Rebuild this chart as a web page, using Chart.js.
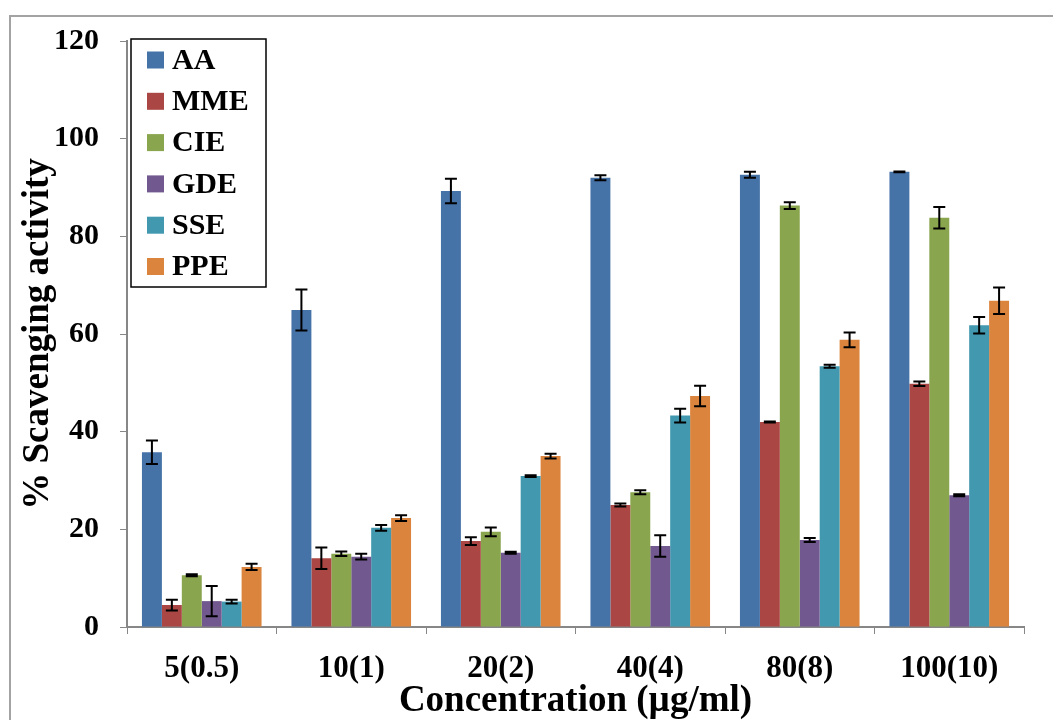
<!DOCTYPE html>
<html>
<head>
<meta charset="utf-8">
<script src="https://cdn.jsdelivr.net/npm/chart.js@4/dist/chart.umd.min.js"></script>
<style>
    html, body { margin: 0; padding: 0; background: #fff; overflow: hidden; }
    #frame { position: absolute; left: 9px; top: 15px; width: 1200px; height: 900px; border: 2px solid #a3a3a3; }
    #wrap { position: absolute; left: 0; top: 0; width: 1053px; height: 720px; }
</style>
</head>
<body>
<div id="frame"></div>
<div id="wrap"><canvas id="scavChart"></canvas></div>
<script>
const labels = ['5(0.5)', '10(1)', '20(2)', '40(4)', '80(8)', '100(10)'];

const aa = [35.8, 64.9, 89.3, 92.0, 92.6, 93.2];
const aaErr = [2.4, 4.2, 2.5, 0.5, 0.6, 0.1];
const mme = [4.5, 14.1, 17.6, 25.0, 42.0, 49.8];
const mmeErr = [1.1, 2.2, 0.8, 0.3, 0.1, 0.45];
const cie = [10.6, 15.0, 19.5, 27.6, 86.3, 83.8];
const cieErr = [0.2, 0.45, 0.9, 0.4, 0.7, 2.2];
const gde = [5.3, 14.4, 15.2, 16.6, 17.8, 27.0];
const gdeErr = [3.1, 0.6, 0.2, 2.2, 0.4, 0.2];
const sse = [5.2, 20.3, 30.9, 43.3, 53.4, 61.8];
const sseErr = [0.4, 0.6, 0.2, 1.4, 0.3, 1.7];
const ppe = [12.3, 22.3, 35.0, 47.3, 58.8, 66.8];
const ppeErr = [0.65, 0.6, 0.5, 2.1, 1.5, 2.7];

const serif = "'Liberation Serif', 'Times New Roman', serif";
const axisGrey = '#878787';

const series = [
    { label: 'AA', data: aa, errors: aaErr, color: '#4572A7' },
    { label: 'MME', data: mme, errors: mmeErr, color: '#AA4643' },
    { label: 'CIE', data: cie, errors: cieErr, color: '#89A54E' },
    { label: 'GDE', data: gde, errors: gdeErr, color: '#71588F' },
    { label: 'SSE', data: sse, errors: sseErr, color: '#4198AF' },
    { label: 'PPE', data: ppe, errors: ppeErr, color: '#DB843D' }
];

// error bars drawn from the y scale
const errorBars = {
    id: 'errorBars',
    afterDatasetsDraw(chart) {
        const ctx = chart.ctx;
        const y = chart.scales.y;
        ctx.save();
        ctx.strokeStyle = '#000';
        ctx.lineWidth = 2;
        chart.data.datasets.forEach((ds, i) => {
            chart.getDatasetMeta(i).data.forEach((bar, j) => {
                const v = ds.data[j], e = ds.errors[j];
                const top = y.getPixelForValue(v + e);
                const bot = y.getPixelForValue(v - e);
                ctx.beginPath();
                ctx.moveTo(bar.x, top); ctx.lineTo(bar.x, bot);
                ctx.moveTo(bar.x - 6, top); ctx.lineTo(bar.x + 6, top);
                ctx.moveTo(bar.x - 6, bot); ctx.lineTo(bar.x + 6, bot);
                ctx.stroke();
            });
        });
        ctx.restore();
    }
};

// boxed legend in the top-left corner of the plot
const boxLegend = {
    id: 'boxLegend',
    afterDraw(chart) {
        const ctx = chart.ctx;
        ctx.save();
        ctx.fillStyle = '#fff';
        ctx.fillRect(131, 39, 135, 248);
        ctx.strokeStyle = '#000';
        ctx.lineWidth = 1.5;
        ctx.strokeRect(131, 39, 135, 248);
        ctx.font = 'bold 30px ' + serif;
        ctx.textBaseline = 'middle';
        chart.data.datasets.forEach((ds, i) => {
            const cy = 60 + i * 41.3;
            ctx.fillStyle = ds.backgroundColor;
            ctx.fillRect(147, cy - 8.5, 17, 17);
            ctx.fillStyle = '#000';
            ctx.fillText(ds.label, 172, cy + 1);
        });
        ctx.restore();
    }
};

new Chart(document.getElementById('scavChart'), {
    type: 'bar',
    data: {
        labels: labels,
        datasets: series.map(s => ({
            label: s.label,
            data: s.data,
            errors: s.errors,
            backgroundColor: s.color,
            borderWidth: 0,
            categoryPercentage: 0.8,
            barPercentage: 1.0
        }))
    },
    options: {
        responsive: true,
        maintainAspectRatio: false,
        animation: false,
        layout: { padding: { top: 41, right: 29, left: 0, bottom: 0 } },
        plugins: {
            legend: { display: false },
            tooltip: { enabled: false }
        },
        scales: {
            x: {
                afterFit: s => { s.height = 93; },
                grid: { drawOnChartArea: false, drawTicks: true, tickLength: 7, color: axisGrey, offset: true },
                border: { color: axisGrey, width: 2 },
                ticks: { color: '#000', padding: 16, font: { family: serif, size: 31, weight: 'bold' } },
                title: {
                    display: true,
                    text: 'Concentration (µg/ml)',
                    color: '#000',
                    padding: { top: 0, bottom: 0 },
                    font: { family: serif, size: 37, weight: 'bold', lineHeight: 1 }
                }
            },
            y: {
                min: 0,
                max: 120,
                afterFit: s => { s.width = 127; },
                grid: { drawOnChartArea: false, drawTicks: true, tickLength: 7, color: axisGrey },
                border: { color: axisGrey, width: 2 },
                ticks: { stepSize: 20, color: '#000', padding: 21, font: { family: serif, size: 30, weight: 'bold' } },
                title: {
                    display: true,
                    text: '% Scavenging activity',
                    color: '#000',
                    padding: { top: 20, bottom: 0 },
                    font: { family: serif, size: 37, weight: 'bold', lineHeight: 1 }
                }
            }
        }
    },
    plugins: [errorBars, boxLegend]
});
</script>
</body>
</html>
